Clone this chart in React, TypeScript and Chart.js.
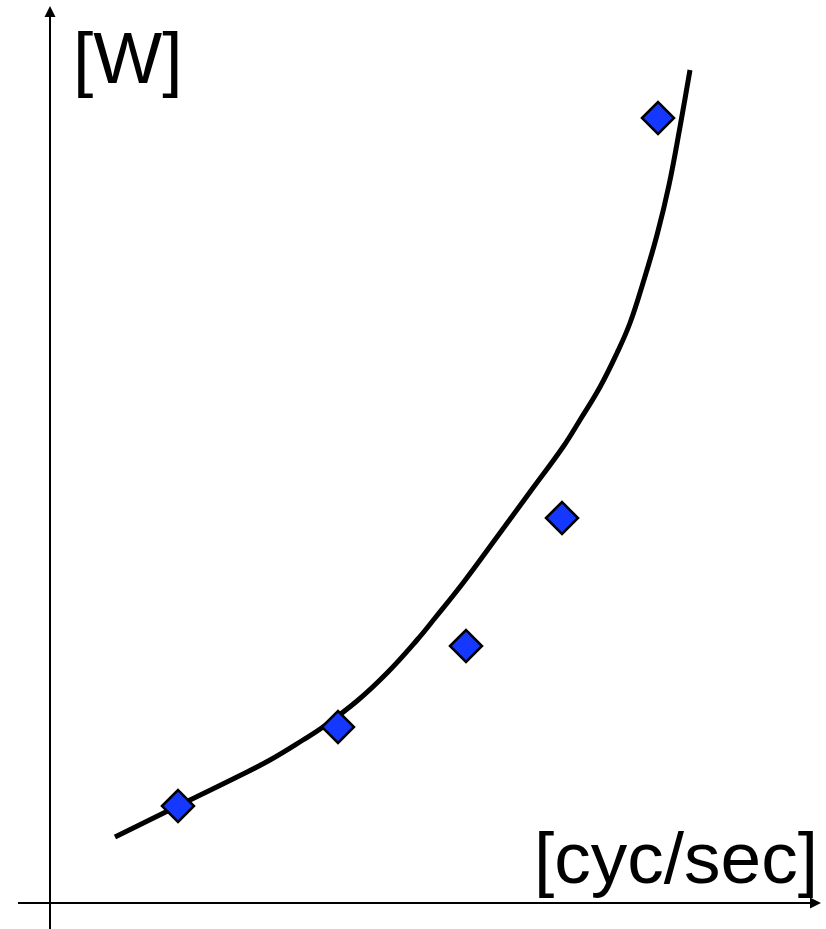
import React, { useEffect, useRef } from "react";
import { Chart, registerables } from "chart.js";

Chart.register(...registerables);

// Measured points (frequency vs power), arbitrary units
const pointX = [1.28, 2.88, 4.16, 5.12, 6.08];
const pointY = [0.97, 1.76, 2.57, 3.85, 7.85];

// Fitted curve
const curveX = [0.65, 1.4, 1.87, 2.2, 2.53, 2.73, 3.07, 3.37, 3.67, 3.85, 4.13, 4.47, 4.8, 5.13, 5.3, 5.5, 5.67, 5.8, 5.93, 6.07, 6.19, 6.3, 6.4];
const curveY = [0.66, 1.03, 1.26, 1.43, 1.63, 1.76, 2.02, 2.3, 2.63, 2.85, 3.2, 3.66, 4.11, 4.56, 4.83, 5.16, 5.5, 5.8, 6.2, 6.68, 7.18, 7.76, 8.33];

const yLabel = "[W]";
const xLabel = "[cyc/sec]";

const axesPlugin = {
  id: "arrowAxes",
  beforeDatasetsDraw(chart: any) {
    const ctx = chart.ctx;
    const xs = chart.scales.x;
    const ys = chart.scales.y;
    const ox = xs.getPixelForValue(0);
    const oy = ys.getPixelForValue(0);
    const W = chart.width;
    const H = chart.height;
    ctx.save();
    ctx.strokeStyle = "#000";
    ctx.fillStyle = "#000";
    ctx.lineWidth = 2;
    // y axis
    ctx.beginPath();
    ctx.moveTo(ox, H);
    ctx.lineTo(ox, 16);
    ctx.stroke();
    ctx.beginPath();
    ctx.moveTo(ox, 6);
    ctx.lineTo(ox - 5.5, 17);
    ctx.lineTo(ox + 5.5, 17);
    ctx.closePath();
    ctx.fill();
    // x axis
    ctx.beginPath();
    ctx.moveTo(18, oy);
    ctx.lineTo(W - 14, oy);
    ctx.stroke();
    ctx.beginPath();
    ctx.moveTo(W - 5, oy);
    ctx.lineTo(W - 16, oy - 5.5);
    ctx.lineTo(W - 16, oy + 5.5);
    ctx.closePath();
    ctx.fill();
    ctx.restore();
  },
  afterDraw(chart: any) {
    const ctx = chart.ctx;
    ctx.save();
    ctx.fillStyle = "#000";
    ctx.font = '73px "Liberation Sans", Arial, sans-serif';
    ctx.textBaseline = "alphabetic";
    ctx.textAlign = "left";
    ctx.fillText(yLabel, 73, 83);
    ctx.textAlign = "right";
    ctx.fillText(xLabel, 818, 883);
    ctx.restore();
  },
};

export default function App() {
  const ref = useRef<HTMLCanvasElement>(null);
  useEffect(() => {
    if (!ref.current) return;
    const chart = new Chart(ref.current, {
      type: "scatter",
      data: {
        datasets: [
          {
            label: "measured",
            data: pointX.map((x, i) => ({ x, y: pointY[i] })),
            pointStyle: "rectRot",
            pointRadius: 16,
            pointBackgroundColor: "#1438ff",
            pointBorderColor: "#000",
            pointBorderWidth: 2.5,
            showLine: false,
            clip: false,
          },
          {
            label: "fit",
            data: curveX.map((x, i) => ({ x, y: curveY[i] })),
            showLine: true,
            borderColor: "#000",
            borderWidth: 5,
            pointRadius: 0,
            tension: 0.4,
            fill: false,
            clip: false,
          },
        ],
      },
      options: {
        animation: false,
        responsive: false,
        maintainAspectRatio: false,
        layout: { autoPadding: false, padding: { left: 50, right: 0, top: 0, bottom: 26 } },
        plugins: { legend: { display: false }, tooltip: { enabled: false }, title: { display: false } },
        scales: {
          x: { type: "linear", min: 0, max: 7.76, display: false },
          y: { type: "linear", min: 0, max: 9.03, display: false },
        },
      },
      plugins: [axesPlugin],
    });
    return () => chart.destroy();
  }, []);
  return (
    <div style={{ position: "fixed", left: 0, top: 0, width: 826, height: 929, background: "#fff" }}>
      <canvas ref={ref} width={826} height={929} style={{ width: 826, height: 929 }} />
    </div>
  );
}
